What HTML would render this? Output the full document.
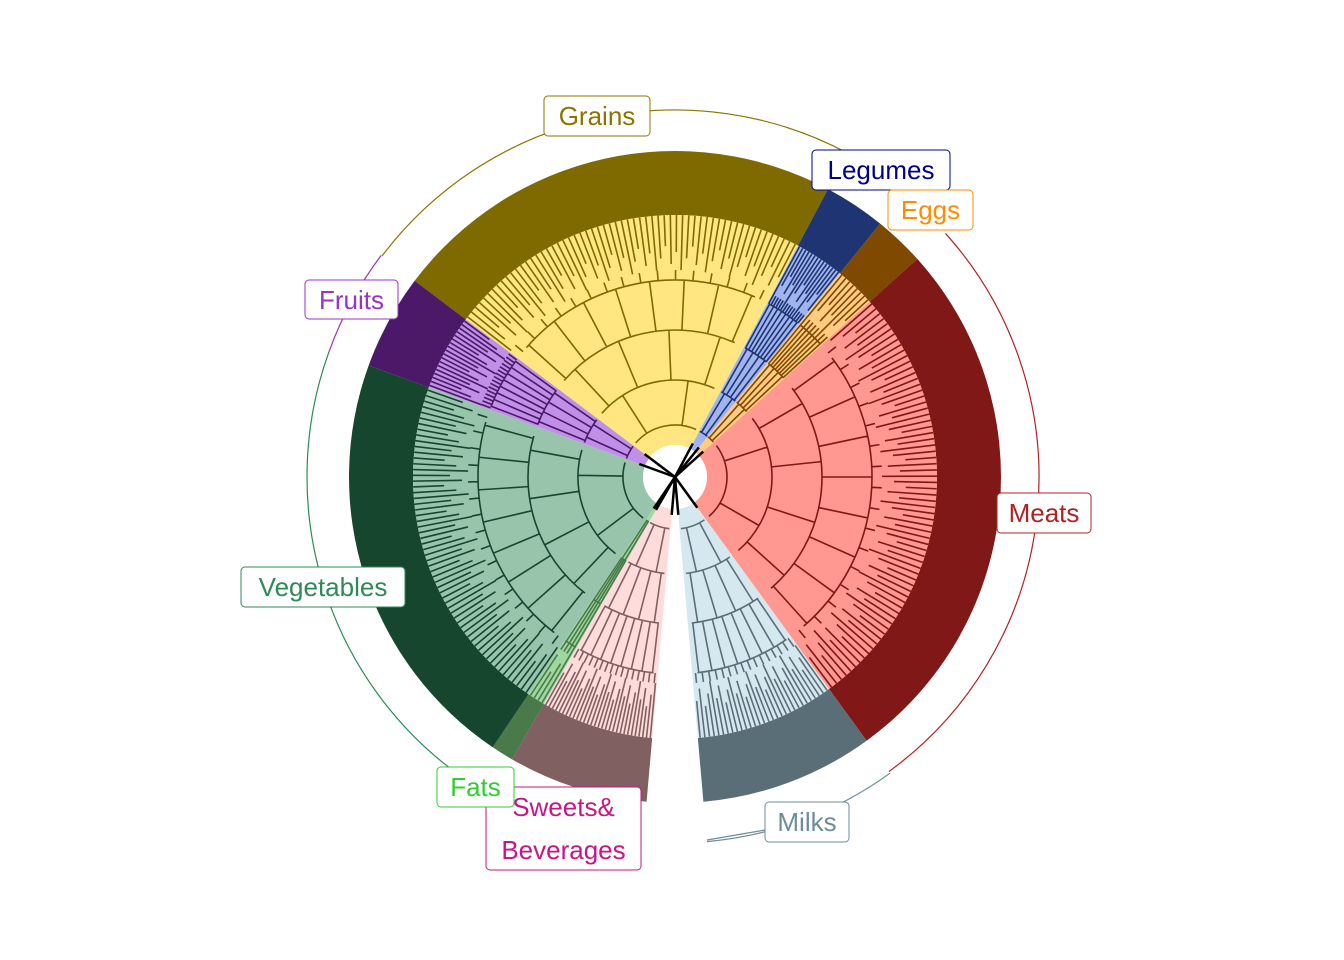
<!DOCTYPE html>
<html><head><meta charset="utf-8"><style>
body{margin:0;background:#fff;}
svg{display:block;font-family:"Liberation Sans",sans-serif;}
</style></head><body>
<svg id="chart" width="1344" height="960"></svg>
<script>
const groups=["Grains","Legumes","Eggs","Meats","Milks","Sweets&\nBeverages","Fats","Vegetables","Fruits"];
const startDeg=[-53,28,39,48,144,185,210,214,290];
const endDeg=[28,39,48,144,175,210,214,290,307];
const leafCounts=[60,14,8,70,30,30,4,60,18];
const outerCols=["#7f6a00","#1f3473","#7f4a00","#801818","#5a6e78","#806060","#4a7a4a","#16462e","#4c1868"];
const lightCols=["#ffe680","#a0b4f0","#ffcc80","#ff9890","#d5e8f0","#ffdcdc","#9ed89e","#98c4ac","#c090e8"];
const labelCols=["#8b7500","#00008b","#ff8c00","#b22222","#6e8b9a","#c71585","#32cd32","#2e8b57","#9932cc"];
const labelBoxes=[[544,96,106,40],[812,150,138,40],[888,190,85,40],[997,493,94,40],[765,802,84,40],[486,787,155,83],[437,767,77,40],[241,567,164,40],[305,280,93,39]];
const arcR=[367,0,0,364,366,0,0,368,368];

const cx=675,cy=477,R1=262,R2=326,R0=32;
const svg=document.getElementById('chart');
const NS='http://www.w3.org/2000/svg';
function pt(r,d){const a=d*Math.PI/180;return [cx+r*Math.sin(a),cy-r*Math.cos(a)];}
function sector(r0,r1,a0,a1){const [x0,y0]=pt(r1,a0),[x1,y1]=pt(r1,a1),[x2,y2]=pt(r0,a1),[x3,y3]=pt(r0,a0);const l=(a1-a0)>180?1:0;
return `M${x0},${y0}A${r1},${r1} 0 ${l} 1 ${x1},${y1}L${x2},${y2}A${r0},${r0} 0 ${l} 0 ${x3},${y3}Z`;}
function arcPath(r,a0,a1){const [x0,y0]=pt(r,a0),[x1,y1]=pt(r,a1);return `M${x0},${y0}A${r},${r} 0 ${(a1-a0)>180?1:0} 1 ${x1},${y1}`;}
function mk(tag,attrs){const e=document.createElementNS(NS,tag);for(const k in attrs)e.setAttribute(k,attrs[k]);svg.appendChild(e);return e;}

groups.forEach((g,i)=>{
  const a0=startDeg[i],a1=endDeg[i];
  let e=mk('path',{d:sector(R1,R2,a0,a1),fill:outerCols[i]});
  
  
  e=mk('path',{d:sector(R0,R1,a0,a1),fill:lightCols[i]});
  
  
  // dendrogram structure
  const n=leafCounts[i],span=a1-a0;
  let d='';
  const levels=[[R0+20,2],[R0+65,4],[R0+115,8],[R0+165,16]];
  levels.forEach(([r,k],li)=>{
    const kk=Math.min(k,n);
    d+=arcPath(r,a0+span*0.05,a1-span*0.05);
    for(let j=0;j<kk;j++){const a=a0+span*(j+0.5)/kk;const [x0,y0]=pt(r,a);const rn=li<3?levels[li+1][0]:R1-55;const [x1,y1]=pt(rn,a);d+=`M${x0},${y0}L${x1},${y1}`;}
  });
  for(let j=0;j<n;j++){const a=a0+span*(j+0.5)/n;const rs=R1-55+((j*7)%5)*6;const [x0,y0]=pt(rs,a),[x1,y1]=pt(R1,a);d+=`M${x0},${y0}L${x1},${y1}`;}
  e=mk('path',{d:d,fill:'none',stroke:outerCols[i],'stroke-width':1.6});
  
  
  if(arcR[i]){e=mk('path',{d:arcPath(arcR[i],a0,a1),fill:'none',stroke:labelCols[i],'stroke-width':1.2});
  
  }
});
// hole
let h=mk('circle',{cx:cx,cy:cy,r:R0,fill:'#fff'});


let dl='';startDeg.concat([175]).forEach(a=>{const [x,y]=pt(R0+6,a);dl+=`M${cx},${cy}L${x},${y}`;});
h=mk('path',{d:dl,stroke:'#000','stroke-width':2.5});


// labels
groups.forEach((g,i)=>{
  const [x,y,w,hh]=labelBoxes[i];
  let r=mk('rect',{x:x,y:y,width:w,height:hh,rx:4,fill:'#fff',stroke:labelCols[i],'stroke-width':1});
  
  
  const lines=g.split('\n');
  lines.forEach((ln,k)=>{
    const t=mk('text',{x:x+w/2,y:y+29+k*43,'text-anchor':'middle','font-size':26,fill:labelCols[i]});
    t.textContent=ln;
    
    
  });
});
let m=mk('path',{d:'M707,840L765,830',stroke:'#6e8b9a','stroke-width':1.2,fill:'none'});


</script>
</body></html>
